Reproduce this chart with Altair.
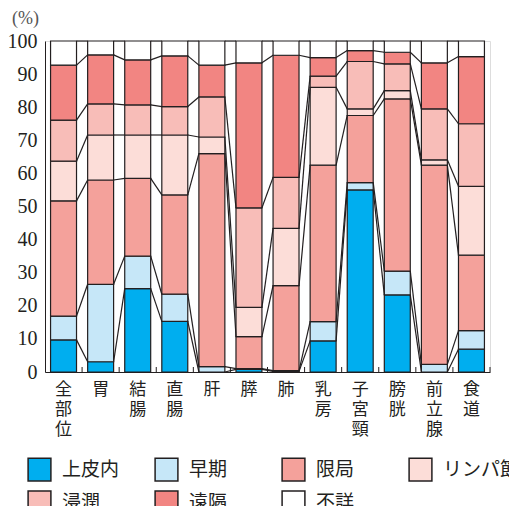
import altair as alt
import pandas as pd

categories = ["全部位", "胃", "結腸", "直腸", "肝", "膵", "肺", "乳房", "子宮頸", "膀胱", "前立腺", "食道"]
stages = ["上皮内", "早期", "限局", "リンパ節", "浸潤", "遠隔", "不詳"]
colors = ["#00AEEF", "#C6E7F8", "#F4A19B", "#FCDDD8", "#F8BDB8", "#F28582", "#FFFFFF"]

# share (%) of each stage, per category (same order as categories)
jouhinai = [9.7, 3.1, 25.2, 15.3, 0.0, 0.8, 0.2, 9.4, 55.0, 23.3, 0.0, 6.9]
souki    = [7.2, 23.4, 9.8, 8.2, 1.6, 0.2, 0.2, 5.8, 2.2, 7.2, 2.3, 5.6]
kyokusho = [34.8, 31.5, 23.5, 30.0, 64.4, 9.7, 25.7, 47.3, 20.3, 52.0, 60.2, 22.8]
lymph    = [12.0, 13.6, 13.1, 18.1, 5.0, 8.8, 17.3, 23.5, 2.0, 2.5, 1.6, 20.8]
shinjun  = [12.4, 9.4, 9.1, 8.6, 12.1, 30.1, 15.4, 3.4, 14.3, 8.1, 15.4, 18.9]
enkaku   = [16.6, 14.8, 13.6, 15.3, 9.6, 43.8, 36.9, 5.6, 3.3, 3.5, 13.9, 20.3]
fushou   = [7.3, 4.2, 5.7, 4.5, 7.3, 6.6, 4.3, 5.0, 2.9, 3.4, 6.6, 4.7]

series = [jouhinai, souki, kyokusho, lymph, shinjun, enkaku, fushou]
y_ticks = list(range(0, 101, 10))

# stacked segments
rows = []
cum = []
for i, c in enumerate(categories):
    base = 0.0
    levels = []
    for s, vals in zip(stages, series):
        top = base + vals[i]
        rows.append({"cat": c, "stage": s, "y0": base, "y1": top})
        base = top
        levels.append(top)
    cum.append(levels)
bars_df = pd.DataFrame(rows)

# connector segments between neighbouring bars
con_rows = []
for k in range(len(stages)):
    for i in range(len(categories) - 1):
        con_rows.append({"cat": categories[i], "next": categories[i + 1],
                         "ya": cum[i][k], "yb": cum[i + 1][k]})
con_df = pd.DataFrame(con_rows)
tick_df = pd.DataFrame({"cat": categories})

W, H = 445, 331
INK = "#231f20"
PAD_IN = 0.3
xscale = alt.Scale(domain=categories, paddingInner=PAD_IN, paddingOuter=PAD_IN / 2)
yscale = alt.Scale(domain=[0, 100], nice=False)
half_gap = W / len(categories) * PAD_IN / 2

x_axis = alt.Axis(title=None, labelExpr="split(datum.label, '')", labelAngle=0,
                  labelFont="Noto Sans CJK JP", labelFontSize=17,
                  labelLineHeight=20, labelColor=INK, labelPadding=9,
                  labelBaseline="top", ticks=False, domain=True,
                  domainColor=INK, labelOverlap=False, labelBound=False)
y_axis = alt.Axis(values=y_ticks, ticks=False, grid=False, domainColor=INK,
                  labelFont="Liberation Serif", labelFontSize=20,
                  labelColor=INK, labelPadding=8, labelOverlap=False,
                  title="(%)", titleAngle=0, titleFont="Liberation Serif",
                  titleFontSize=18, titleFontWeight="normal", titleColor="#555555",
                  titleX=-20, titleY=-23, titleAlign="center",
                  titleBaseline="middle")

bars = alt.Chart(bars_df).mark_bar(stroke=INK, strokeWidth=1.2).encode(
    x=alt.X("cat:N", scale=xscale, sort=categories, axis=x_axis),
    y=alt.Y("y0:Q", scale=yscale, axis=y_axis),
    y2="y1:Q",
    color=alt.Color("stage:N", scale=alt.Scale(domain=stages, range=colors),
                    legend=alt.Legend(title=None, orient="none", legendX=-18, legendY=416,
                                      direction="horizontal",
                                      columns=4, gridAlign="all", columnPadding=13,
                                      rowPadding=4, symbolType="square", symbolSize=520,
                                      symbolStrokeColor=INK, symbolStrokeWidth=1.5,
                                      symbolOpacity=1,
                                      labelFont="Noto Sans CJK JP", labelFontSize=19,
                                      labelColor=INK, labelOffset=10, labelLimit=200)),
)

connectors = alt.Chart(con_df).mark_rule(color=INK, strokeWidth=1.2).encode(
    x=alt.X("cat:N", scale=xscale, sort=categories, bandPosition=1, axis=x_axis),
    x2=alt.X2("next:N", bandPosition=0),
    y=alt.Y("ya:Q", scale=yscale, axis=y_axis),
    y2="yb:Q",
)

ticks = alt.Chart(tick_df).mark_rule(color=INK, strokeWidth=1, xOffset=half_gap).encode(
    x=alt.X("cat:N", scale=xscale, sort=categories, bandPosition=1, axis=x_axis),
    y=alt.value(H),
    y2=alt.value(H - 5),
)

chart = alt.layer(bars, connectors, ticks).properties(
    width=W, height=H,
    autosize=alt.AutoSizeParams(type="none"),
    padding={"left": 37, "top": 33, "right": 19, "bottom": 134},
).configure_view(stroke=INK, strokeWidth=1.2).configure(background="white")

chart.save("out.html", embed_options={"renderer": "svg", "actions": False})
